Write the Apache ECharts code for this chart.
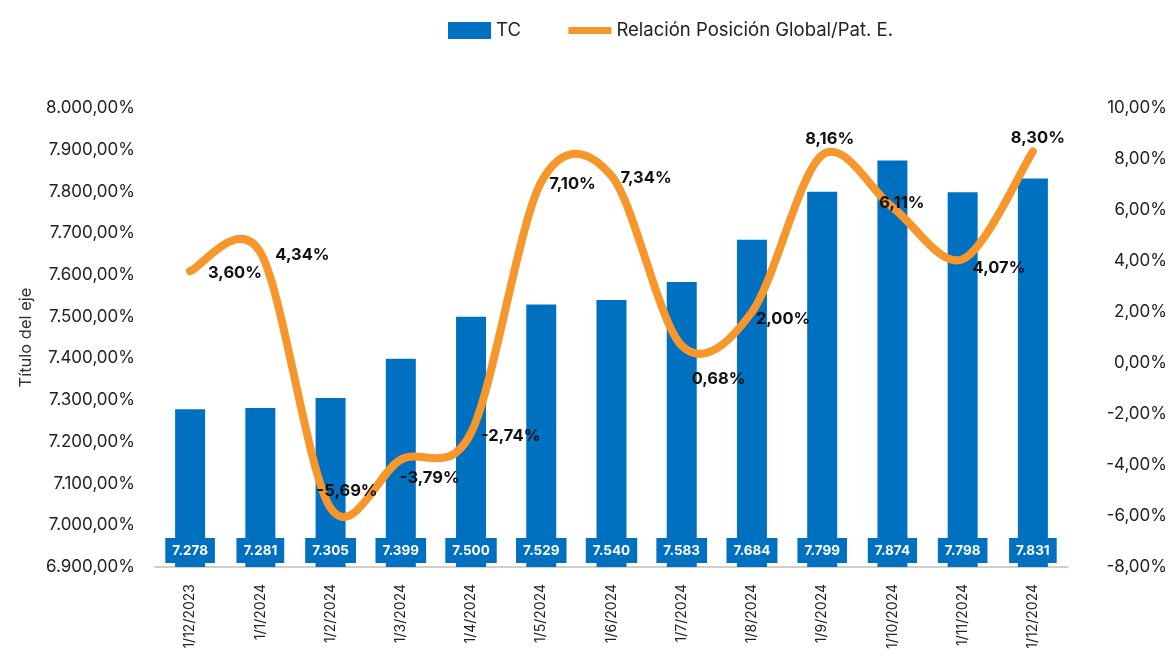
<!DOCTYPE html>
<html>
<head>
<meta charset="utf-8">
<script src="https://cdn.jsdelivr.net/npm/echarts@6/dist/echarts.min.js"></script>
<style>
    html, body { margin: 0; padding: 0; background: #fff; }
    #chart { width: 1172px; height: 660px; }
</style>
</head>
<body>
<div id="chart"></div>
<script>
    // datos
    const fechas = ['1/12/2023', '1/1/2024', '1/2/2024', '1/3/2024', '1/4/2024', '1/5/2024', '1/6/2024',
        '1/7/2024', '1/8/2024', '1/9/2024', '1/10/2024', '1/11/2024', '1/12/2024']
    const tc = [7278, 7281, 7305, 7399, 7500, 7529, 7540, 7583, 7684, 7799, 7874, 7798, 7831]
    const relacion = [3.60, 4.34, -5.69, -3.79, -2.74, 7.10, 7.34, 0.68, 2.00, 8.16, 6.11, 4.07, 8.30]

    // desplazamiento de cada etiqueta de la linea [dx, dy] respecto al punto
    const labelOffsets = [[18, 2], [15, 3], [-14, -17], [-1, 18], [10, 3], [8, 2], [9, 2],
        [10, 33], [4, 7], [-17, -16], [-13, -4], [10, 9], [-22, -13]]

    const azul = '#0070C0'
    const naranja = '#F7962B'
    const fuente = 'Inter'
    const nombreLinea = 'Relación Posición Global/Pat. E.'

    function fmtNum(v, dec) {
        const parts = Math.abs(v).toFixed(dec).split('.')
        const ent = parts[0].replace(/\B(?=(\d{3})+(?!\d))/g, '.')
        return (v < 0 ? '-' : '') + ent + (dec > 0 ? ',' + parts[1] : '')
    }

    // curva suavizada tipo Excel (catmull-rom -> bezier), puntos via api.coord
    function renderCurva(params, api) {
        if (params.dataIndex !== 0) return null
        const pts = relacion.map(function (v, i) { return api.coord([i, v]) })
        const n = pts.length
        const t = 0.16
        let d = 'M' + pts[0][0] + ',' + pts[0][1]
        for (let i = 0; i < n - 1; i++) {
            const p0 = pts[Math.max(i - 1, 0)]
            const p1 = pts[i]
            const p2 = pts[i + 1]
            const p3 = pts[Math.min(i + 2, n - 1)]
            const c1x = p1[0] + (p2[0] - p0[0]) * t
            const c1y = p1[1] + (p2[1] - p0[1]) * t
            const c2x = p2[0] - (p3[0] - p1[0]) * t
            const c2y = p2[1] - (p3[1] - p1[1]) * t
            d += 'C' + c1x + ',' + c1y + ',' + c2x + ',' + c2y + ',' + p2[0] + ',' + p2[1]
        }
        return {
            type: 'path',
            shape: { pathData: d },
            style: { fill: null, stroke: naranja, lineWidth: 8, lineCap: 'round', lineJoin: 'round' }
        }
    }

    const chart = echarts.init(document.getElementById('chart'))

    chart.setOption({
        animation: false,
        textStyle: { fontFamily: fuente },
        legend: {
            left: 443,
            top: 16,
            itemWidth: 43,
            itemHeight: 17,
            itemGap: 44,
            textStyle: { fontSize: 18.5, color: '#222', fontFamily: fuente },
            data: [
                { name: 'TC', icon: 'rect' },
                { name: nombreLinea, lineStyle: { width: 7, color: naranja, opacity: 1 } }
            ]
        },
        grid: { left: 155, right: 104, top: 108, bottom: 93 },
        xAxis: {
            type: 'category',
            data: fechas,
            axisTick: { show: false },
            axisLine: { onZero: false, lineStyle: { color: '#bfbfbf', width: 1.5 } },
            axisLabel: {
                rotate: 90,
                interval: 0,
                margin: 17,
                fontSize: 14,
                color: '#222',
                fontFamily: fuente
            }
        },
        yAxis: [
            {
                type: 'value',
                min: 6900,
                max: 8000,
                interval: 100,
                name: 'Título del eje',
                nameLocation: 'middle',
                nameGap: 120,
                nameTextStyle: { fontSize: 16.5, color: '#333', fontFamily: fuente },
                splitLine: { show: false },
                axisLine: { show: false },
                axisTick: { show: false },
                axisLabel: {
                    margin: 20,
                    fontSize: 17,
                    color: '#222',
                    fontFamily: fuente,
                    formatter: function (v) { return fmtNum(v, 2) + '%' }
                }
            },
            {
                type: 'value',
                min: -8,
                max: 10,
                interval: 2,
                splitLine: { show: false },
                axisLine: { show: false },
                axisTick: { show: false },
                axisLabel: {
                    margin: 99,
                    align: 'right',
                    fontSize: 17,
                    color: '#222',
                    fontFamily: fuente,
                    formatter: function (v) { return fmtNum(v, 2) + '%' }
                }
            }
        ],
        series: [
            {
                name: 'TC',
                type: 'bar',
                yAxisIndex: 0,
                barWidth: 30,
                data: tc,
                itemStyle: { color: azul },
                label: {
                    show: true,
                    position: 'insideBottom',
                    distance: 4,
                    color: '#fff',
                    fontWeight: 'bold',
                    fontSize: 13.5,
                    fontFamily: fuente,
                    backgroundColor: azul,
                    padding: [6, 7, 5, 7],
                    formatter: function (p) { return fmtNum(p.value, 0) }
                }
            },
            {
                name: 'curva',
                type: 'custom',
                yAxisIndex: 1,
                z: 4,
                data: relacion.map(function (v, i) { return [i, v] }),
                encode: { x: 0, y: 1 },
                renderItem: renderCurva
            },
            {
                // linea invisible: solo etiquetas y leyenda
                name: nombreLinea,
                type: 'line',
                yAxisIndex: 1,
                symbol: 'circle',
                symbolSize: 0.1,
                showSymbol: true,
                z: 5,
                itemStyle: { color: 'transparent' },
                lineStyle: { color: naranja, width: 8, opacity: 0 },
                data: relacion.map(function (v, i) {
                    return {
                        value: v,
                        label: { position: labelOffsets[i] }
                    }
                }),
                label: {
                    show: true,
                    align: 'left',
                    verticalAlign: 'middle',
                    color: '#111',
                    fontWeight: 'bold',
                    fontSize: 16.5,
                    fontFamily: fuente,
                    formatter: function (p) { return fmtNum(p.value, 2) + '%' }
                }
            }
        ]
    })
</script>
</body>
</html>
